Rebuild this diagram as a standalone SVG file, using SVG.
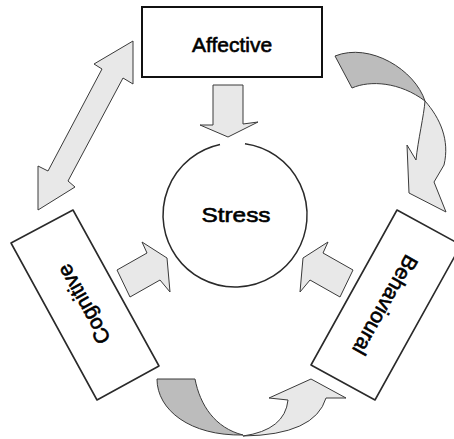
<svg xmlns="http://www.w3.org/2000/svg" width="454" height="439" viewBox="0 0 454 439">
<style>
.lt{fill:#e8e8e8;stroke:#3a3a3a;stroke-width:1;stroke-linejoin:round}
.dk{fill:#bcbcbc;stroke:#3a3a3a;stroke-width:1;stroke-linejoin:round}
.box{fill:#fff;stroke:#111;stroke-width:2}
.sk{fill:#fff;stroke:#2a2a2a;stroke-width:1.6;stroke-linejoin:round}
.t{font-family:"Liberation Sans",Arial,sans-serif;font-size:21px;fill:#000;stroke:#000;stroke-width:0.6;text-anchor:middle}
</style>
<rect width="454" height="439" fill="#fff"/>
<g id="connectors">
<polygon class="lt" points="133,41 133,84 123,78 68,181 75,187 38,210 38,166 48,171 102,69 94,64"/>
<polygon class="lt" points="213,85 243,85 243,124 258,122 228,137 200,125 213,125"/>
<polygon class="lt" points="117,270 147,253 142,242 167,258 170,292 160,280 130,297"/>
<polygon class="lt" points="353,270 323,253 328,242 303,258 300,292 310,280 340,297"/>
<path class="dk" d="M335,56 L352,88 C370,80 400,82 425,101 C415,70 370,42 335,56 Z"/>
<path class="lt" d="M425,101 C440,118 450,140 444,165 L434,182 L446,212 L409,193 L407,145 L416,160 C418,140 424,115 425,101 Z"/>
<path class="dk" d="M157,379 L195,379 C200,405 215,428 243,435 C190,436 157,410 157,379 Z"/>
<path class="lt" d="M243,436 Q315,435 326,398 L346,398 L311,379 L269,398 L288,400 Q285,430 243,436 Z"/>
</g>
<g id="stress">
<path d="M245,143.7 A72,72 0 1 1 220,144.6" fill="none" stroke="#2a2a2a" stroke-width="1.5"/>
<text class="t" x="236" y="222" textLength="69" lengthAdjust="spacingAndGlyphs">Stress</text>
</g>
<g id="affective">
<rect class="box" x="142" y="7" width="180" height="70"/>
<text class="t" x="232" y="52">Affective</text>
</g>
<g id="cognitive">
<polygon class="sk" points="11,243 73,210 159,366 97,400"/>
<text class="t" transform="translate(84,304) rotate(241)" y="7">Cognitive</text>
</g>
<g id="behavioural">
<polygon class="sk" points="397,210 461,245 375,400 311,365"/>
<text class="t" transform="translate(385,305) rotate(119.5)" y="7">Behavioural</text>
</g>
</svg>
